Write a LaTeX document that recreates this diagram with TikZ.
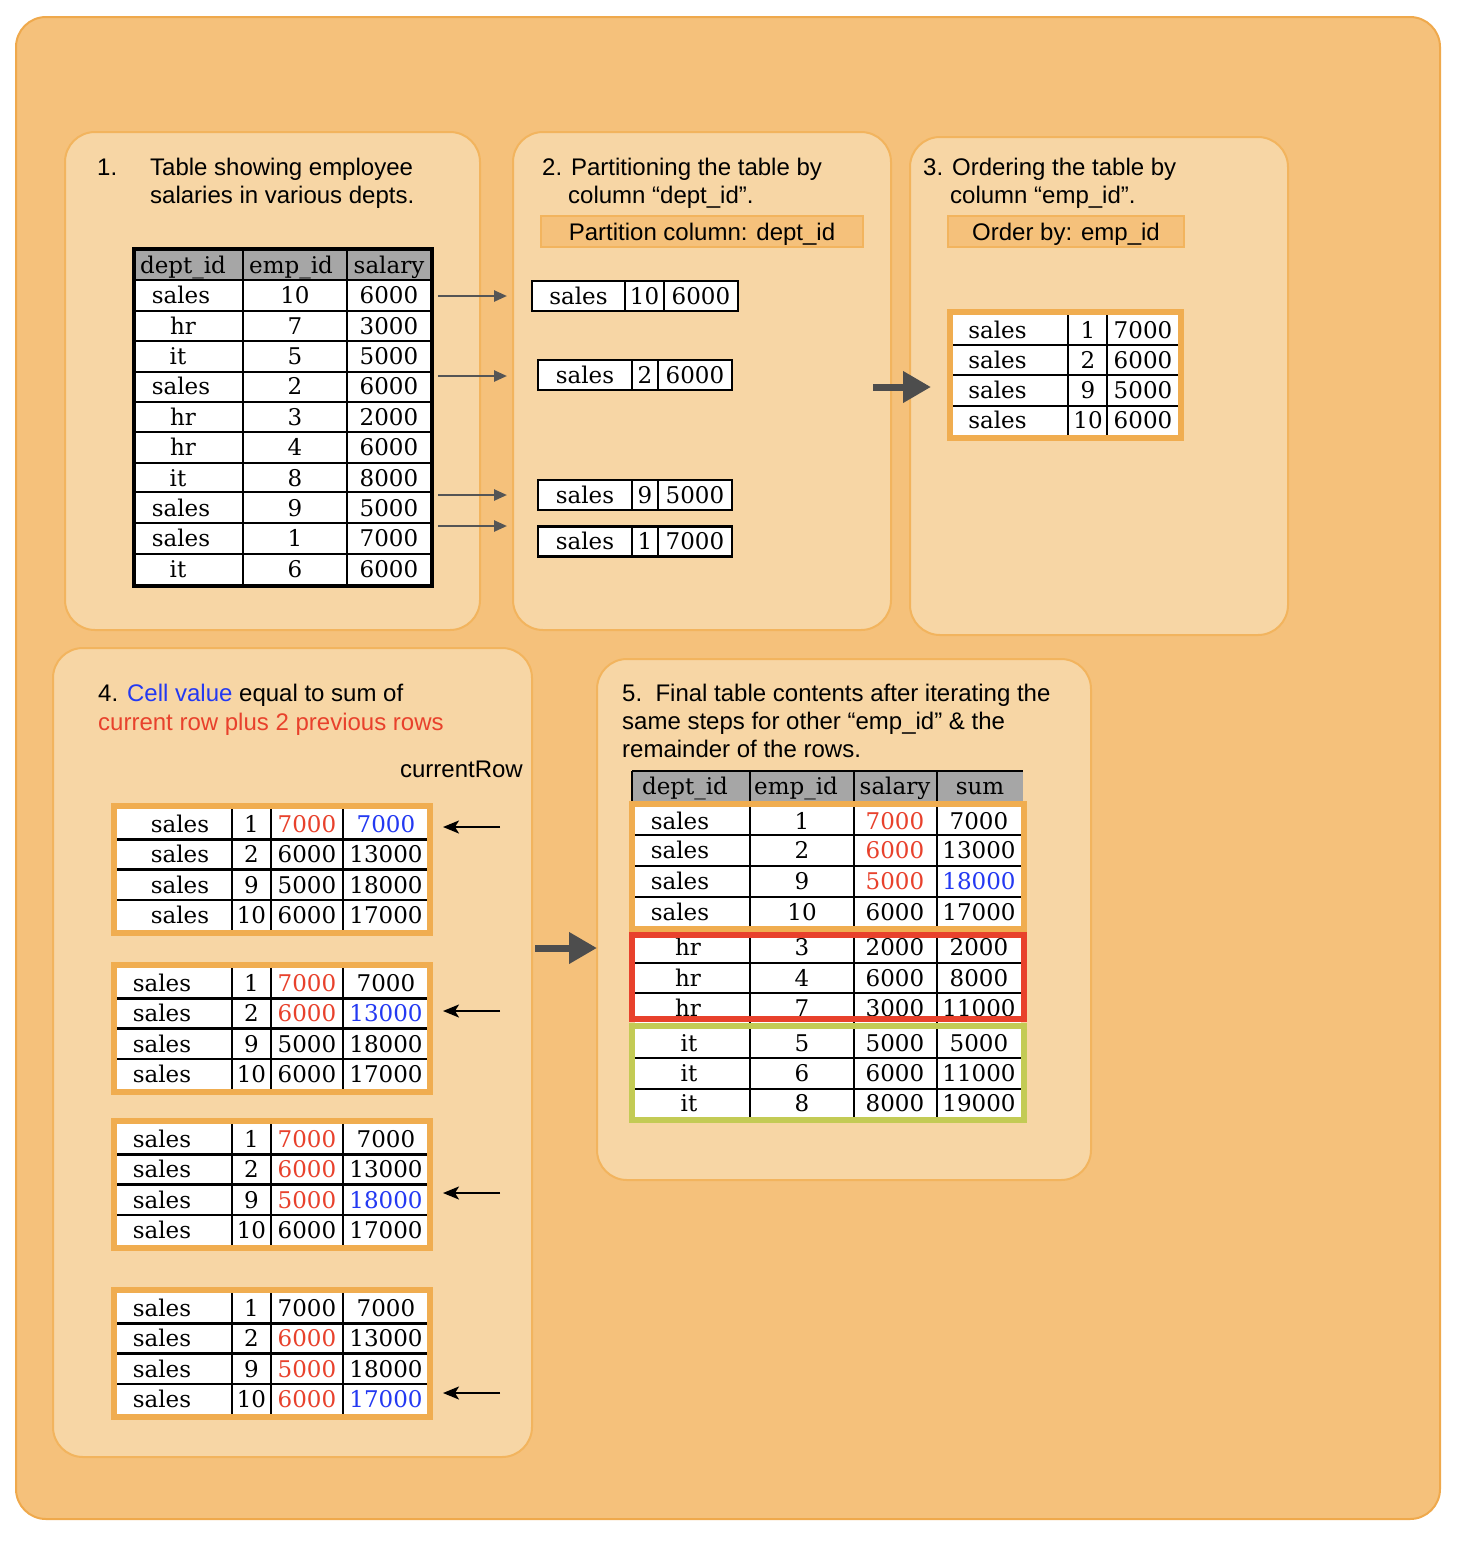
\documentclass[tikz,border=0pt]{standalone}
\usepackage{fontspec}
\setmainfont{Liberation Sans}
\newfontfamily\tabfont{DejaVu Serif}
\usetikzlibrary{arrows.meta}
\definecolor{outerfill}{HTML}{F5C17B}
\definecolor{outerline}{HTML}{EFA94C}
\definecolor{panelfill}{HTML}{F7D6A5}
\definecolor{panelline}{HTML}{F2B45E}
\definecolor{frameor}{HTML}{F0AD50}
\definecolor{cred}{HTML}{E8412C}
\definecolor{cblue}{HTML}{2339F2}
\definecolor{cgreen}{HTML}{C3CB55}
\definecolor{hdrgray}{HTML}{A6A6A6}
\definecolor{arrgray}{HTML}{555555}
\definecolor{bigarr}{HTML}{4D4D4D}
\tikzset{
  panel/.style={fill=panelfill, draw=panelline, line width=2pt, rounded corners=30pt},
  tt/.style={font=\tabfont\fontsize{23}{27}\selectfont, inner sep=0pt, text height=16.8pt, text depth=0pt, anchor=center},
  sf/.style={font=\fontsize{24}{28}\selectfont, inner sep=0pt, text height=17pt, text depth=0pt, anchor=west},
  gline/.style={line width=2.5pt, draw=black},
  oframe/.style={draw=frameor, line width=6pt},
  garr/.style={draw=arrgray, line width=2.5pt, -{Triangle[length=13pt,width=11pt]}},
  karr/.style={draw=black, line width=2pt, -{Stealth[length=16pt,width=13pt,inset=4pt]}},
  barr/.style={draw=bigarr, line width=7pt, -{Triangle[length=28pt,width=30pt]}},
  lbox/.style={fill=outerfill, draw=panelline, line width=2pt},
}
% small one-row table of panel 2
\newcommand\ptab[9]{%
  \fill[white] (#2,#6-15) rectangle (#5,#6+15);
  \draw[line width=2.8pt] (#2,#6-15) rectangle (#5,#6+15) (#3,#6-15) -- (#3,#6+15) (#4,#6-15) -- (#4,#6+15);
  \node[tt] (#1d) at ({(#2+#3)/2},#6) {#7};
  \node[tt] (#1e) at ({(#3+#4)/2},#6) {#8};
  \node[tt] (#1s) at ({(#4+#5)/2},#6) {#9};
}
% sum table of panel 4: prefix, inner top, dept x, arrow y, rows
\newcommand\sumtab[5]{%
  \fill[white] (117,#2) rectangle (427,#2+121);
  \foreach \k in {1,2,3} \draw[gline] (117,{#2+30.3*\k}) -- (427,{#2+30.3*\k});
  \foreach \cx in {232,271,343} \draw[gline] (\cx,#2) -- (\cx,#2+121);
  \draw[oframe] (114,#2-3) rectangle (430,#2+124);
  \foreach \ve/\vs/\vsc/\vu/\vuc [count=\i] in {#5} {
    \node[tt] (#1d\i) at (#3,{#2-15.15+30.3*\i}) {sales};
    \node[tt] (#1e\i) at (251.5,{#2-15.15+30.3*\i}) {\ve};
    \node[tt,text=\vsc] (#1s\i) at (307,{#2-15.15+30.3*\i}) {\vs};
    \node[tt,text=\vuc] (#1u\i) at (386,{#2-15.15+30.3*\i}) {\vu};
  }
  \coordinate (#1as) at (500,#4);
  \coordinate (#1ae) at (443,#4);
  \draw[karr] (#1as) -- (#1ae);
}
\begin{document}
\begin{tikzpicture}[x=1pt,y=-1pt]
\useasboundingbox (0,0) rectangle (1462,1548);
% outer
\draw[fill=outerfill, draw=outerline, line width=2pt, rounded corners=30pt] (16,17) rectangle (1440,1519);
% panels
\draw[panel] (65,132) rectangle (480,630);
\draw[panel] (513,132) rectangle (891,630);
\draw[panel] (910,137) rectangle (1288,635);
\draw[panel] (53,648) rectangle (532,1457);
\draw[panel] (597,659) rectangle (1091,1180);

% ---------- panel 1 ----------
\node[sf] (t1a) at (97,167) {1.};
\node[sf] (t1b) at (150,167) {Table showing employee};
\node[sf] (t1c) at (150,195) {salaries in various depts.};
\fill[white] (134,249) rectangle (432,586);
\fill[hdrgray] (134,249) rectangle (432,280);
\foreach \yy in {280,311,341,372,402,432,463,492,523,554} \draw[gline] (134,\yy) -- (432,\yy);
\draw[gline] (243,249) -- (243,586);
\draw[gline] (347,249) -- (347,586);
\draw[line width=4pt] (134,249) rectangle (432,586);
\node[tt] (h1a) at (183,265) {dept\_id};
\node[tt] (h1b) at (291,265) {emp\_id};
\node[tt] (h1c) at (389,265) {salary};
\foreach \vd/\ve/\vs/\vx [count=\i] in {sales/10/6000/181, hr/7/3000/183, it/5/5000/178, sales/2/6000/181, hr/3/2000/183, hr/4/6000/183, it/8/8000/178, sales/9/5000/181, sales/1/7000/181, it/6/6000/178} {
  \node[tt] (p1d\i) at (\vx,{264.8+30.4*\i}) {\vd};
  \node[tt] (p1e\i) at (295,{264.8+30.4*\i}) {\ve};
  \node[tt] (p1s\i) at (389,{264.8+30.4*\i}) {\vs};
}
% arrows panel 1 -> 2
\foreach \ay [count=\i] in {296,376,495,526} {
  \coordinate (a\i s) at (438,\ay);
  \coordinate (a\i e) at (507,\ay);
  \draw[garr] (a\i s) -- (a\i e);
}

% ---------- panel 2 ----------
\node[sf] (t2a) at (542,167) {2. Partitioning the table by};
\node[sf] (t2b) at (568,195) {column “dept\_id”.};
\draw[lbox] (541,216) rectangle (863,247);
\node[sf,anchor=center] (t2c) at (702,232) {Partition column: dept\_id};
\ptab{q1}{532}{625}{664}{738}{296}{sales}{10}{6000}
\ptab{q2}{538}{632}{658}{732}{375}{sales}{2}{6000}
\ptab{q3}{538}{632}{658}{732}{495}{sales}{9}{5000}
\ptab{q4}{538}{632}{658}{732}{541.5}{sales}{1}{7000}
% big arrow 2 -> 3
\coordinate (b1s) at (873,387);
\coordinate (b1e) at (931,387);
\draw[barr] (b1s) -- (b1e);

% ---------- panel 3 ----------
\node[sf] (t3a) at (923,167) {3. Ordering the table by};
\node[sf] (t3b) at (950,195) {column “emp\_id”.};
\draw[lbox] (948,216) rectangle (1184,247);
\node[sf,anchor=center] (t3c) at (1066,232) {Order by: emp\_id};
\fill[white] (953,315) rectangle (1178,435);
\foreach \yy in {345,375,406} \draw[gline] (953,\yy) -- (1178,\yy);
\draw[gline] (1068,315) -- (1068,435);
\draw[gline] (1107,315) -- (1107,435);
\draw[oframe] (950,312) rectangle (1181,438);
\foreach \ve/\vs [count=\i] in {1/7000, 2/6000, 9/5000, 10/6000} {
  \node[tt] (p3d\i) at (997.5,{299.5+30.2*\i}) {sales};
  \node[tt] (p3e\i) at (1088,{299.5+30.2*\i}) {\ve};
  \node[tt] (p3s\i) at (1143,{299.5+30.2*\i}) {\vs};
}

% ---------- panel 4 ----------
\node[sf] (t4a) at (98,693) {4. {\color{cblue}Cell value} equal to sum of};
\node[sf,text=cred] (t4b) at (98,722) {current row plus 2 previous rows};
\node[sf,anchor=east] (t4c) at (523,769) {currentRow};
\sumtab{r1}{809}{180}{827}{1/7000/cred/7000/cblue, 2/6000/black/13000/black, 9/5000/black/18000/black, 10/6000/black/17000/black}
\sumtab{r2}{968}{162}{1011}{1/7000/cred/7000/black, 2/6000/cred/13000/cblue, 9/5000/black/18000/black, 10/6000/black/17000/black}
\sumtab{r3}{1124}{162}{1193}{1/7000/cred/7000/black, 2/6000/cred/13000/black, 9/5000/cred/18000/cblue, 10/6000/black/17000/black}
\sumtab{r4}{1293}{162}{1393}{1/7000/black/7000/black, 2/6000/cred/13000/black, 9/5000/cred/18000/black, 10/6000/cred/17000/cblue}
% big arrow 4 -> 5
\coordinate (b2s) at (535,948);
\coordinate (b2e) at (597,948);
\draw[barr] (b2s) -- (b2e);

% ---------- panel 5 ----------
\node[sf] (t5a) at (622,693) {5.\ \ Final table contents after iterating the};
\node[sf] (t5b) at (622,721) {same steps for other “emp\_id” \& the};
\node[sf] (t5c) at (622,749) {remainder of the rows.};
\fill[hdrgray] (632,771) rectangle (1023,801);
\fill[white] (635,807) rectangle (1021,1120);
\foreach \yy in {835,866,897,963,993,1058,1089} \draw[gline] (635,\yy) -- (1021,\yy);
\foreach \xx in {750,854,937} \draw[gline] (\xx,771) -- (\xx,1120);
\draw[gline] (632,771) -- (1023,771);
\draw[gline] (632,771) -- (632,801);
\node[tt] (h5a) at (685,786) {dept\_id};
\node[tt] (h5b) at (796,786) {emp\_id};
\node[tt] (h5c) at (895,786) {salary};
\node[tt] (h5d) at (980,786) {sum};
\foreach \vd/\vx/\vy/\ve/\vs/\vsc/\vu/\vuc [count=\i] in {
  sales/680/821/1/7000/cred/7000/black,
  sales/680/850.5/2/6000/cred/13000/black,
  sales/680/881.5/9/5000/cred/18000/cblue,
  sales/680/912/10/6000/black/17000/black,
  hr/688/947/3/2000/black/2000/black,
  hr/688/978/4/6000/black/8000/black,
  hr/688/1008/7/3000/black/11000/black,
  it/689/1043/5/5000/black/5000/black,
  it/689/1073.5/6/6000/black/11000/black,
  it/689/1103.5/8/8000/black/19000/black} {
  \node[tt] (p5d\i) at (\vx,\vy) {\vd};
  \node[tt] (p5e\i) at (802,\vy) {\ve};
  \node[tt,text=\vsc] (p5s\i) at (895,\vy) {\vs};
  \node[tt,text=\vuc] (p5u\i) at (979,\vy) {\vu};
}
\draw[oframe] (632,804) rectangle (1024,929);
\draw[draw=cred,line width=6pt] (632,935) rectangle (1024,1019);
\draw[draw=cgreen,line width=6pt] (632,1025.5) rectangle (1024,1120);
\end{tikzpicture}
\end{document}
